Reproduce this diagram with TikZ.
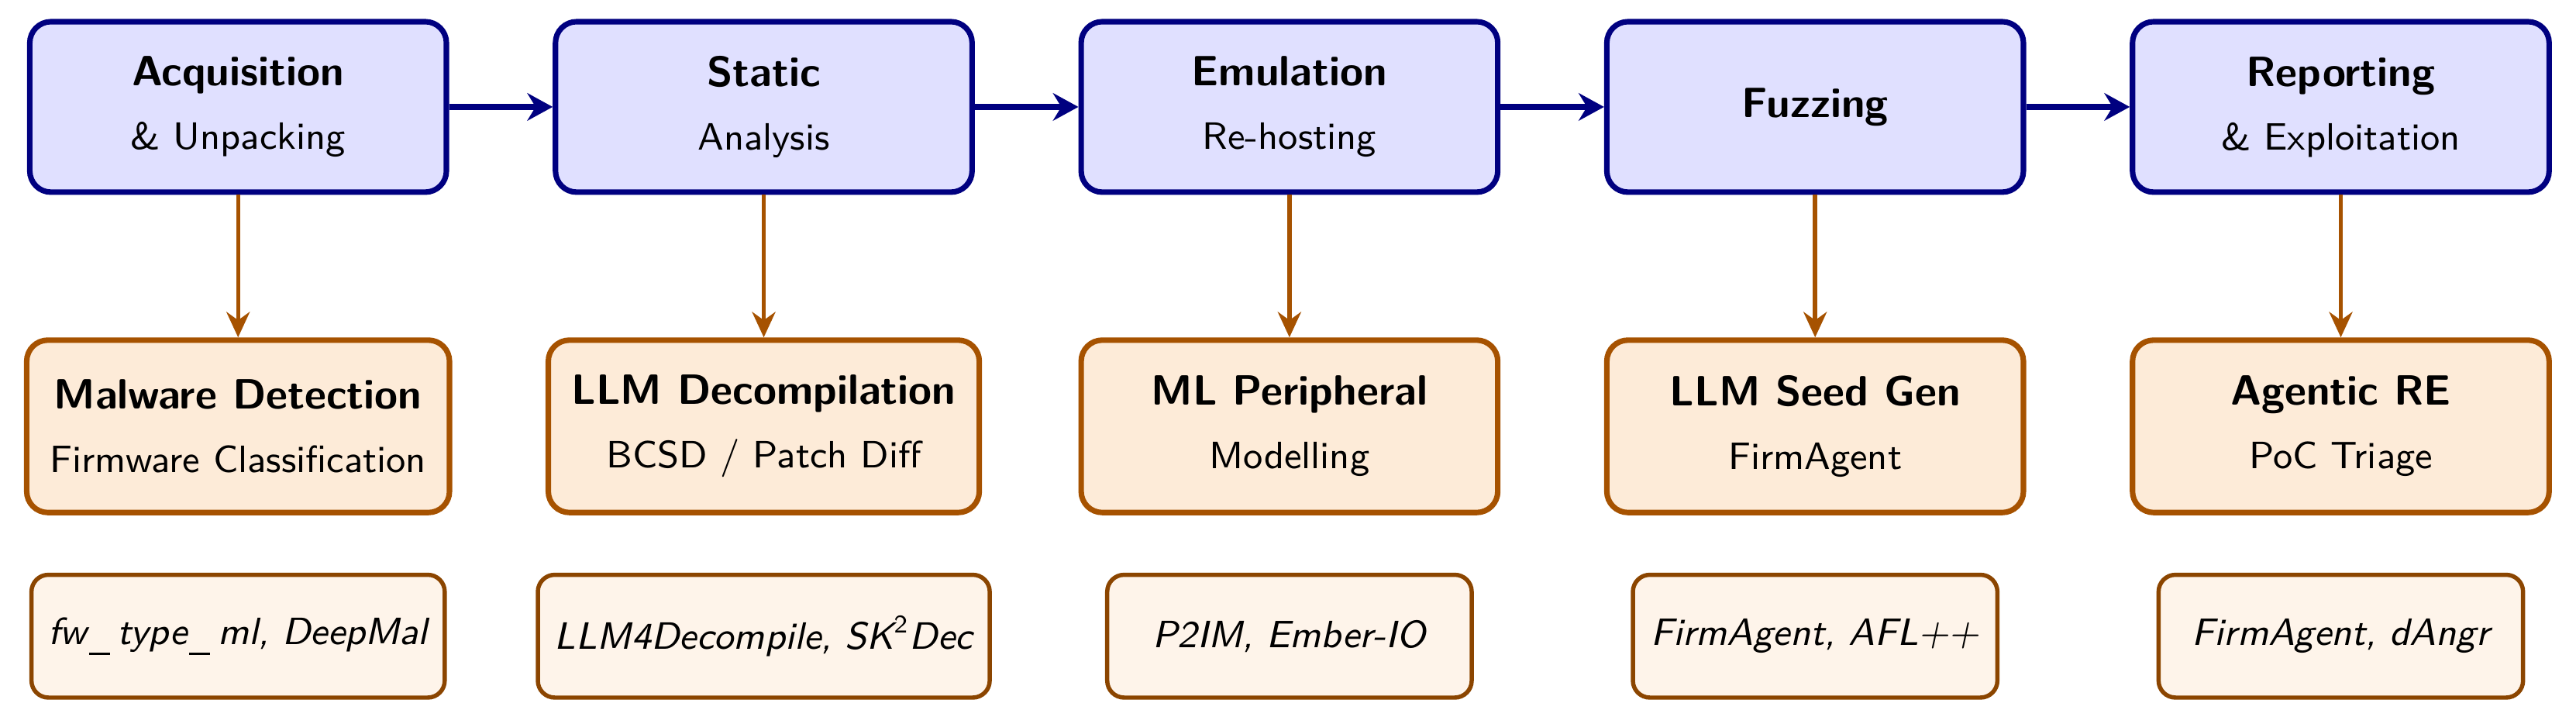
\documentclass[tikz,border=0pt]{standalone}
\usepackage{amsmath}
\usepackage{tikz}
\usetikzlibrary{arrows.meta}
\definecolor{stageline}{HTML}{000080}
\definecolor{stagefill}{HTML}{E0E0FF}
\definecolor{methodline}{HTML}{A65200}
\definecolor{methodfill}{HTML}{FDEBD8}
\definecolor{toolline}{HTML}{8B4500}
\definecolor{toolfill}{HTML}{FEF4EA}
\newcommand{\fwbar}{\kern0.05em\rule[-2.4pt]{0.55em}{0.5pt}\kern0.2em}
\tikzset{stage/.style = {shape = rectangle, rounded corners = 5pt, draw = stageline, line width = 1.3pt, fill = stagefill, minimum width = 3.461cm, minimum height = 1.416cm, inner xsep = 5.5pt, align = center, font = \sffamily}}
\tikzset{method/.style = {shape = rectangle, rounded corners = 5pt, draw = methodline, line width = 1.3pt, fill = methodfill, minimum width = 3.461cm, minimum height = 1.432cm, inner xsep = 5.5pt, align = center, font = \sffamily}}
\tikzset{tool/.style = {shape = rectangle, rounded corners = 4pt, draw = toolline, line width = 1pt, fill = toolfill, minimum width = 3.028cm, minimum height = 1.02cm, inner xsep = 4pt, align = center, font = \sffamily\small\itshape}}
\tikzset{flow/.style = {->, > = {Stealth[length = 6pt, width = 6.5pt]}, draw = stageline, line width = 1.6pt}}
\tikzset{feed/.style = {->, > = {Stealth[length = 6pt, width = 5.5pt]}, draw = methodline, line width = 1pt}}

\begin{document}
\begin{tikzpicture}
			\useasboundingbox (0, 0) rectangle (21.40, -5.891);

			% pipeline stages
			\node[stage] (acq) at (1.978, -0.888) {{\bfseries Acquisition}\\[3pt]\small \& Unpacking};
			\node[stage] (sta) at (6.345, -0.888) {{\bfseries Static}\\[3pt]\small Analysis};
			\node[stage] (emu) at (10.712, -0.888) {{\bfseries Emulation}\\[3pt]\small Re-hosting};
			\node[stage] (fuz) at (15.079, -0.888) {\bfseries Fuzzing};
			\node[stage] (rep) at (19.446, -0.888) {{\bfseries Reporting}\\[3pt]\small \& Exploitation};

			% methods
			\node[method] (mal) at (1.978, -3.541) {{\bfseries Malware Detection}\\[3pt]\small Firmware Classification};
			\node[method] (dec) at (6.345, -3.541) {{\bfseries LLM Decompilation}\\[3pt]\small BCSD / Patch Diff};
			\node[method] (per) at (10.712, -3.541) {{\bfseries ML Peripheral}\\[3pt]\small Modelling};
			\node[method] (see) at (15.079, -3.541) {{\bfseries LLM Seed Gen}\\[3pt]\small FirmAgent};
			\node[method] (age) at (19.446, -3.541) {{\bfseries Agentic RE}\\[3pt]\small PoC Triage};

			% tools
			\node[tool] (t1) at (1.978, -5.284) {fw\fwbar type\fwbar ml, DeepMal};
			\node[tool] (t2) at (6.345, -5.284) {LLM4Decompile, SK\textsuperscript{\upshape 2}Dec};
			\node[tool] (t3) at (10.712, -5.284) {P2IM, Ember-IO};
			\node[tool] (t4) at (15.079, -5.284) {FirmAgent, AFL++};
			\node[tool] (t5) at (19.446, -5.284) {FirmAgent, dAngr};

			\draw[flow] (acq) -- (sta);
			\draw[flow] (sta) -- (emu);
			\draw[flow] (emu) -- (fuz);
			\draw[flow] (fuz) -- (rep);

			\draw[feed] (acq) -- (mal);
			\draw[feed] (sta) -- (dec);
			\draw[feed] (emu) -- (per);
			\draw[feed] (fuz) -- (see);
			\draw[feed] (rep) -- (age);
		\end{tikzpicture}
\end{document}
